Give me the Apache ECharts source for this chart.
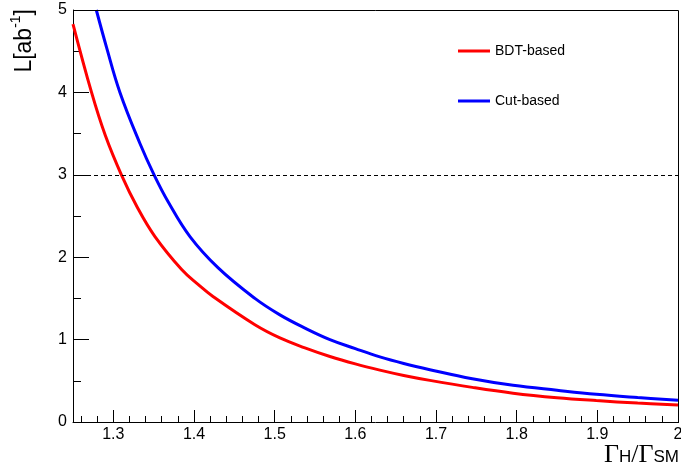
<!DOCTYPE html>
<html>
<head>
<meta charset="utf-8">
<script src="https://cdn.jsdelivr.net/npm/echarts@6/dist/echarts.min.js"></script>
<style>
html,body{margin:0;padding:0;background:#fff;}
#chart{width:681px;height:469px;}
</style>
</head>
<body>
<div id="chart"></div>
<script>
// Data
const bdtX = [1.25, 1.273, 1.29, 1.310, 1.33, 1.3516, 1.3847, 1.405, 1.4239, 1.4755, 1.5065, 1.5375, 1.5685, 1.60, 1.6304, 1.66, 1.6924, 1.745, 1.7955, 1.85, 1.8987, 1.95, 2.0];
const bdtL = [4.83, 4.00, 3.48, 3.00, 2.60, 2.25, 1.85, 1.67, 1.52, 1.18, 1.02, 0.90, 0.795, 0.705, 0.63, 0.565, 0.505, 0.42, 0.35, 0.295, 0.26, 0.23, 0.205];
const cutX = [1.2789, 1.2915, 1.3082, 1.333, 1.3505, 1.3681, 1.395, 1.430, 1.4755, 1.5065, 1.5375, 1.5685, 1.60, 1.6304, 1.66, 1.6924, 1.745, 1.7955, 1.85, 1.8987, 1.95, 2.0];
const cutL = [5.0, 4.55, 4.00, 3.38, 3.00, 2.67, 2.25, 1.87, 1.50, 1.30, 1.14, 1.00, 0.89, 0.79, 0.71, 0.635, 0.525, 0.445, 0.385, 0.336, 0.297, 0.264];
const seriesNames = ['BDT-based', 'Cut-based'];
const xRange = [1.25, 2.0];
const yRange = [0, 5];
const xMajorTicks = [1.3, 1.4, 1.5, 1.6, 1.7, 1.8, 1.9, 2.0];
const xMinorTicks = [1.26, 1.28, 1.32, 1.34, 1.36, 1.38, 1.42, 1.44, 1.46, 1.48, 1.52, 1.54, 1.56, 1.58,
  1.62, 1.64, 1.66, 1.68, 1.72, 1.74, 1.76, 1.78, 1.82, 1.84, 1.86, 1.88, 1.92, 1.94, 1.96, 1.98];
const thresholdL = 3;

const zip = (xs, ys) => xs.map((x, i) => [x, ys[i]]);
const chart = echarts.init(document.getElementById('chart'), null, {renderer: 'canvas'});
const sans = 'Liberation Sans, Arial, sans-serif';
const serif = 'Liberation Serif, Times New Roman, serif';

chart.setOption({
  animation: false,
  backgroundColor: '#fff',
  grid: {left: 73, right: 3, top: 10, bottom: 47, outerBoundsMode: 'none', containLabel: false},
  legend: {
    orient: 'vertical', left: 458, top: 44, padding: 0, icon: 'rect', itemWidth: 32, itemHeight: 3, itemGap: 36, itemTextGap: 7,
    textStyle: {fontFamily: sans, fontSize: 14, color: '#000'},
    data: seriesNames
  },
  xAxis: [{
    type: 'value', min: xRange[0], max: xRange[1], position: 'bottom',
    axisLine: {show: true, onZero: false, lineStyle: {color: '#000', width: 1}},
    axisTick: {show: true, inside: true, length: 12, customValues: xMajorTicks, lineStyle: {color: '#000'}},
    axisLabel: {show: true, customValues: xMajorTicks, margin: 5, fontFamily: sans, fontSize: 16, color: '#000',
      formatter: v => String(+(+v).toFixed(2))},
    splitLine: {show: false}
  }, {
    type: 'value', min: xRange[0], max: xRange[1], position: 'bottom', offset: 0,
    axisLine: {show: false, onZero: false},
    axisTick: {show: true, inside: true, length: 6, customValues: xMinorTicks, lineStyle: {color: '#000'}},
    axisLabel: {show: false},
    splitLine: {show: false}
  }],
  yAxis: [{
    type: 'value', min: yRange[0], max: yRange[1], interval: 1, position: 'left',
    axisLine: {show: true, onZero: false, lineStyle: {color: '#000', width: 1}},
    axisTick: {show: true, inside: true, length: 16, lineStyle: {color: '#000'}},
    minorTick: {show: true, splitNumber: 2, length: 8, lineStyle: {color: '#000'}},
    axisLabel: {margin: 6, fontFamily: sans, fontSize: 16, color: '#000'},
    splitLine: {show: false}
  }],
  series: [{
    name: seriesNames[0], type: 'line', xAxisIndex: 0, yAxisIndex: 0, data: zip(bdtX, bdtL),
    smooth: 0.4, symbol: 'none', clip: true,
    lineStyle: {color: '#ff0000', width: 3}, itemStyle: {color: '#ff0000'},
    markLine: {
      silent: true, symbol: ['none', 'none'], label: {show: false},
      lineStyle: {color: '#000', width: 1, type: [4, 3]},
      emphasis: {disabled: true},
      data: [{yAxis: thresholdL}]
    }
  }, {
    name: seriesNames[1], type: 'line', xAxisIndex: 0, yAxisIndex: 0, data: zip(cutX, cutL),
    smooth: 0.4, symbol: 'none', clip: true,
    lineStyle: {color: '#0000ff', width: 3}, itemStyle: {color: '#0000ff'}
  }]
});

// frame box and titles, placed from the axes' own pixel mapping
const tl = chart.convertToPixel({xAxisIndex: 0, yAxisIndex: 0}, [xRange[0], yRange[1]]);
const br = chart.convertToPixel({xAxisIndex: 0, yAxisIndex: 0}, [xRange[1], yRange[0]]);
const L = Math.round(tl[0]), T = Math.round(tl[1]), R = Math.round(br[0]), B = Math.round(br[1]);
chart.setOption({
  graphic: [{
    type: 'polyline', silent: true, z: 100,
    shape: {points: [[L, T + 0.5], [R + 0.5, T + 0.5], [R + 0.5, B + 1]]},
    style: {fill: null, stroke: '#000000', lineWidth: 1}
  }, {
    type: 'text', x: 23, y: T - 1, rotation: Math.PI / 2,
    style: {
      text: '{m|L[ab}{s|-1}{m|]}', align: 'right', verticalAlign: 'middle', fill: '#000',
      rich: {
        m: {fontFamily: sans, fontSize: 23, lineHeight: 27, verticalAlign: 'bottom', fill: '#000'},
        s: {fontFamily: sans, fontSize: 14, lineHeight: 27, verticalAlign: 'top', padding: [0, 0, 10, 0], fill: '#000'}
      }
    }
  }, {
    type: 'text', x: R + 1, y: B + 20,
    style: {
      text: '{g|Γ}{b|H}{g|/Γ}{b|SM}', align: 'right', verticalAlign: 'top', fill: '#000',
      rich: {
        g: {fontFamily: serif, fontSize: 26, lineHeight: 24, verticalAlign: 'top', fill: '#000'},
        b: {fontFamily: sans, fontSize: 17, lineHeight: 16, padding: [12, 0, 0, 0], verticalAlign: 'bottom', fill: '#000'}
      }
    }
  }]
});
</script>
</body>
</html>
